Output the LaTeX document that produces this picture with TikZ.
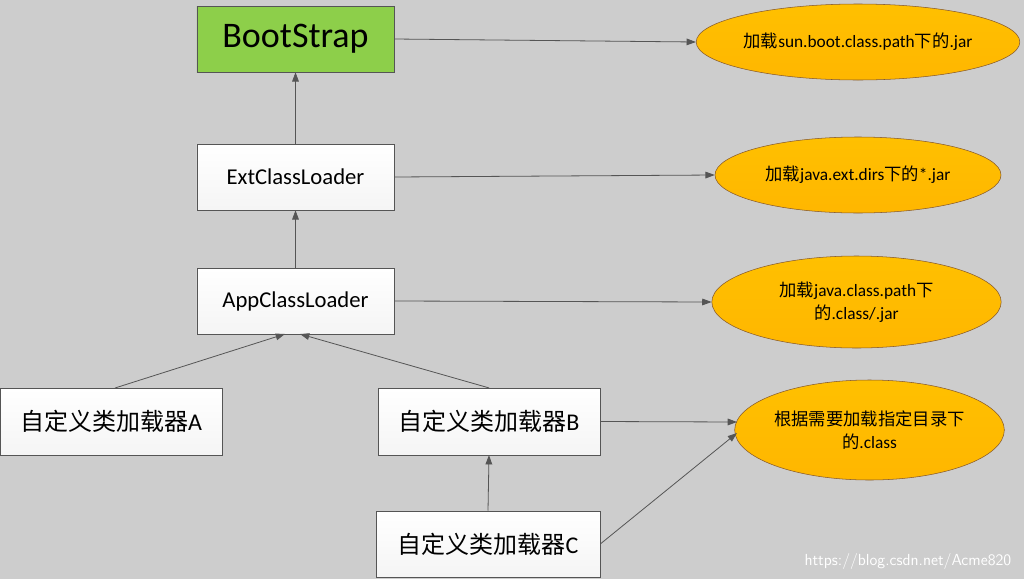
\documentclass[tikz,border=0pt]{standalone}
\usepackage{fontspec}
\setmainfont{Carlito}
\newfontfamily\cjk{Noto Sans CJK SC}
\usetikzlibrary{shapes.geometric,arrows.meta}
\definecolor{bg}{HTML}{CDCDCD}
\definecolor{grn}{HTML}{8DCF4A}
\definecolor{ylw}{HTML}{FFC000}
\definecolor{ln}{HTML}{555555}
\begin{document}
\begin{tikzpicture}[x=0.75pt,y=-0.75pt,
 box/.style={draw=ln,rectangle,top color=white,bottom color=gray!8,inner sep=0pt},
 ell/.style={draw=brown!70!black,ellipse,top color=ylw,bottom color=ylw!85!orange,inner sep=0pt,align=center,font=\fontsize{13}{17}\selectfont},
 arr/.style={draw=ln,-{Triangle[length=7pt,width=5pt]},line width=0.6pt}]
\fill[bg] (0,0) rectangle (1024,579);
\useasboundingbox (0,0) rectangle (1024,579);
\node[box,top color=grn,bottom color=grn,minimum width=148pt,minimum height=49.5pt,font=\fontsize{27}{30}\selectfont] (bs) at (295.5,39) {BootStrap};
\node[box,minimum width=148pt,minimum height=49.5pt,font=\fontsize{17}{20}\selectfont] (ext) at (295.5,177) {ExtClassLoader};
\node[box,minimum width=148pt,minimum height=49.5pt,font=\fontsize{17}{20}\selectfont] (app) at (295.5,301) {AppClassLoader};
\node[box,minimum width=166.5pt,minimum height=50pt,font=\fontsize{18}{20}\selectfont] (a) at (111,421.5) {{\cjk 自定义类加载器}A};
\node[box,minimum width=166.5pt,minimum height=50pt,font=\fontsize{18}{20}\selectfont] (b) at (489,421.5) {{\cjk 自定义类加载器}B};
\node[box,minimum width=168pt,minimum height=49.5pt,font=\fontsize{18}{20}\selectfont] (c) at (488,544) {{\cjk 自定义类加载器}C};
\node[ell,minimum width=214.5pt,minimum height=57pt] (e1) at (858,42) {{\cjk 加载}sun.boot.class.path{\cjk 下的}.jar};
\node[ell,minimum width=214.5pt,minimum height=57pt] (e2) at (858,175) {{\cjk 加载}java.ext.dirs{\cjk 下的}*.jar};
\node[ell,minimum width=217pt,minimum height=69pt] (e3) at (856.5,302) {{\cjk 加载}java.class.path{\cjk 下}\\{\cjk 的}.class/.jar};
\node[ell,minimum width=199pt,minimum height=75pt] (e4) at (869.5,430) {{\cjk 根据需要加载指定目录下}\\{\cjk 的}.class};
\coordinate (appA) at (285,334);
\coordinate (appB) at (300,334);
\coordinate (e4a) at (737,422);
\coordinate (e4b) at (737,433);
\draw[arr] (bs.east) -- (e1.west);
\draw[arr] (ext.east) -- (e2.west);
\draw[arr] (app.east) -- (e3.west);
\draw[arr] (ext.north) -- (bs.south);
\draw[arr] (app.north) -- (ext.south);
\draw[arr] (115,388) -- (appA);
\draw[arr] (b.north) -- (appB);
\draw[arr] (c.north) -- (b.south);
\draw[arr] (b.east) -- (e4a);
\draw[arr] (c.east) -- (e4b);
\node[text=white,font=\fontsize{12}{14}\selectfont\sffamily,anchor=east] (wm) at (1016,561) {https://blog.csdn.net/Acme820};
\end{tikzpicture}
\end{document}
